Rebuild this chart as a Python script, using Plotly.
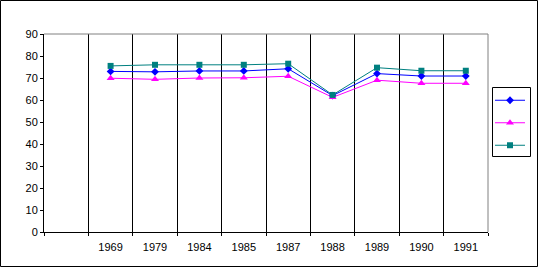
import plotly.graph_objects as go

categories = [" ", "1969", "1979", "1984", "1985", "1987", "1988", "1989", "1990", "1991"]
years = ["1969", "1979", "1984", "1985", "1987", "1988", "1989", "1990", "1991"]
series_blue = [73.0, 72.8, 73.2, 73.2, 74.2, 62.0, 72.0, 70.9, 70.9]
series_magenta = [69.9, 69.4, 70.0, 70.1, 70.8, 61.2, 69.0, 67.6, 67.6]
series_teal = [75.5, 76.0, 76.0, 76.0, 76.5, 62.3, 74.7, 73.3, 73.3]
y_ticks = [0, 10, 20, 30, 40, 50, 60, 70, 80, 90]

W, H = 539, 268
L, R, T, B = 44, 488, 34, 232

fig = go.Figure()
fig.add_trace(go.Scatter(x=years, y=series_blue, name="", mode="lines+markers",
                         line=dict(color="#0000FF", width=1),
                         marker=dict(symbol="diamond", size=6, color="#0000FF")))
fig.add_trace(go.Scatter(x=years, y=series_magenta, name="", mode="lines+markers",
                         line=dict(color="#FF00FF", width=1),
                         marker=dict(symbol="triangle-up", size=7, color="#FF00FF")))
fig.add_trace(go.Scatter(x=years, y=series_teal, name="", mode="lines+markers",
                         line=dict(color="#008080", width=1),
                         marker=dict(symbol="square", size=6, color="#008080")))

pw = R - L
ph = B - T
def px_x(x):
    return (x - L) / pw
def px_y(y):
    return (B - y) / ph

fig.update_layout(
    width=W, height=H,
    margin=dict(l=L, r=W - R, t=T, b=H - B, pad=0, autoexpand=False),
    paper_bgcolor="white", plot_bgcolor="white",
    font=dict(family="Liberation Sans, Arial, sans-serif", size=11, color="black"),
    showlegend=True,
    legend=dict(x=px_x(490), y=px_y(84), xanchor="left", yanchor="top",
                borderwidth=0, bgcolor="rgba(0,0,0,0)",
                font=dict(size=15), itemwidth=30),
    xaxis=dict(type="category", categoryorder="array", categoryarray=categories,
               range=[-0.5, 9.5], tickson="boundaries", ticks="outside", ticklen=3,
               tickcolor="black", showgrid=True, gridcolor="black", gridwidth=1,
               showline=True, linecolor="black", linewidth=1, zeroline=False,
               tickfont=dict(size=11), ticklabelstandoff=5),
    yaxis=dict(range=[0, 90], tickvals=y_ticks, ticks="outside", ticklen=3,
               tickcolor="black", showgrid=False, showline=True, linecolor="black",
               linewidth=1, zeroline=False, tickfont=dict(size=11)),
    shapes=[
        dict(type="line", xref="paper", yref="paper", x0=0, x1=1, y0=1, y1=1,
             line=dict(color="#808080", width=1), layer="above"),
        dict(type="line", xref="paper", yref="paper", x0=1, x1=1, y0=0, y1=1,
             line=dict(color="#808080", width=1), layer="above"),
        dict(type="rect", xref="paper", yref="paper",
             x0=px_x(492.5), x1=px_x(530.5), y0=px_y(87.5), y1=px_y(156.5),
             line=dict(color="black", width=1), layer="above"),
        dict(type="rect", xref="paper", yref="paper",
             x0=px_x(0.5), x1=px_x(537.5), y0=px_y(0.5), y1=px_y(266.5),
             line=dict(color="black", width=1), layer="above"),
    ],
)

fig.write_html("out.html")
